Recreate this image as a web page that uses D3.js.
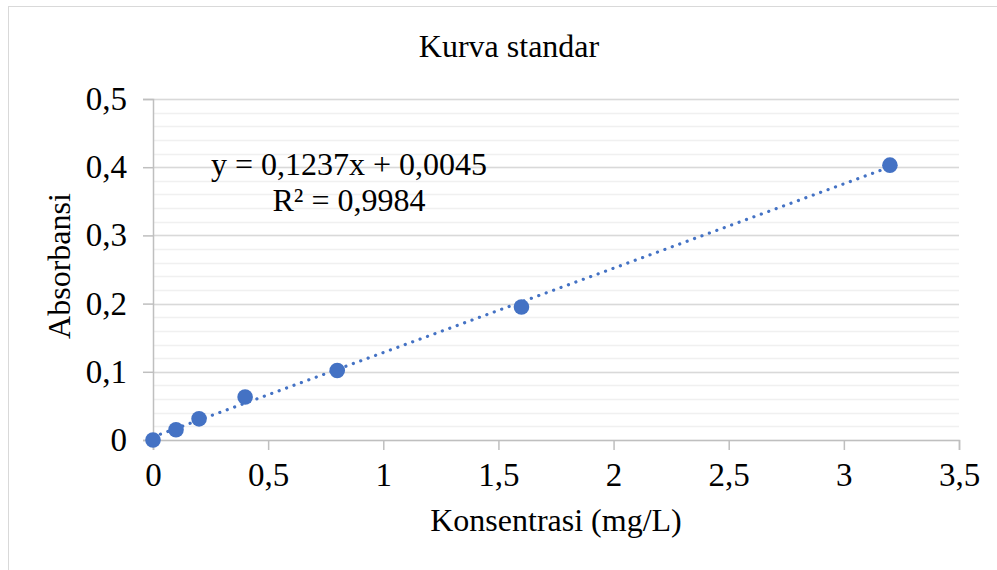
<!DOCTYPE html>
<html>
<head>
<meta charset="utf-8">
<script src="https://cdn.jsdelivr.net/npm/d3@7"></script>
<style>
  body { margin: 0; background: #fff; }
  svg text { font-family: "Liberation Serif", "Times New Roman", serif; fill: #000; }
</style>
</head>
<body>
<svg id="chart" width="997" height="570"></svg>
<script>
// data
var konsentrasi = [0, 0.1, 0.2, 0.4, 0.8, 1.6, 3.2]
var absorbansi = [0, 0.015, 0.031, 0.063, 0.102, 0.195, 0.403]
var xTicks = [0, 0.5, 1, 1.5, 2, 2.5, 3, 3.5]
var yTicks = [0, 0.1, 0.2, 0.3, 0.4, 0.5]
var yMinor = d3.range(0, 0.5001, 0.02)
var slope = 0.1237
var intercept = 0.0045
var eqText = "y = 0,1237x + 0,0045"
var r2Text = "R\u00b2 = 0,9984"

var blue = "#4472C4"
var svg = d3.select("#chart")

// outer chart border
svg.append("rect")
  .attr("x", 8.5).attr("y", 6.5)
  .attr("width", 1000).attr("height", 600)
  .attr("fill", "none").attr("stroke", "#d9d9d9")

var x = d3.scaleLinear().domain([0, 3.5]).range([153, 959])
var y = d3.scaleLinear().domain([0, 0.5]).range([440, 99])

var fmt = function(d) { return d3.format("~g")(d).replace(".", ",") }

// minor gridlines
svg.append("g").selectAll("line").data(yMinor).enter().append("line")
  .attr("x1", x(0)).attr("x2", x(3.5))
  .attr("y1", function(d) { return Math.round(y(d)) + 0.5 })
  .attr("y2", function(d) { return Math.round(y(d)) + 0.5 })
  .attr("stroke", "#f0f0f0").attr("stroke-width", 1.5)

// major gridlines
svg.append("g").selectAll("line").data(yTicks.slice(1)).enter().append("line")
  .attr("x1", x(0)).attr("x2", x(3.5))
  .attr("y1", function(d) { return Math.round(y(d)) + 0.5 })
  .attr("y2", function(d) { return Math.round(y(d)) + 0.5 })
  .attr("stroke", "#d9d9d9").attr("stroke-width", 1.5)

// axes
var xAxis = svg.append("g")
  .attr("transform", "translate(0," + y(0) + ")")
  .call(d3.axisBottom(x).tickValues(xTicks).tickFormat(fmt).tickSize(10).tickPadding(13))
var yAxis = svg.append("g")
  .attr("transform", "translate(" + x(0) + ",0)")
  .call(d3.axisLeft(y).tickValues(yTicks).tickFormat(fmt).tickSize(10).tickPadding(16))

svg.selectAll(".domain").attr("stroke", "#bfbfbf").attr("stroke-width", 1.5)
svg.selectAll(".tick line").attr("stroke", "#bfbfbf").attr("stroke-width", 1.5)
svg.selectAll(".tick text").style("font-size", "33px").style("font-family", "Liberation Serif")
xAxis.selectAll(".tick text").attr("dy", "0.71em")

// trendline
var lineGen = d3.line()
  .x(function(d) { return x(d) })
  .y(function(d) { return y(slope * d + intercept) })
svg.append("path")
  .datum([0, d3.max(konsentrasi)])
  .attr("d", lineGen)
  .attr("fill", "none")
  .attr("stroke", blue)
  .attr("stroke-width", 3.2)
  .attr("stroke-linecap", "round")
  .attr("stroke-dasharray", "0.1 7.8")

// points
svg.append("g").selectAll("circle").data(konsentrasi).enter().append("circle")
  .attr("cx", function(d) { return x(d) })
  .attr("cy", function(d, i) { return y(absorbansi[i]) })
  .attr("r", 7.8)
  .attr("fill", blue)

// titles
svg.append("text")
  .attr("x", 509).attr("y", 57)
  .attr("text-anchor", "middle")
  .style("font-size", "32px")
  .text("Kurva standar")

svg.append("text")
  .attr("x", 556).attr("y", 531)
  .attr("text-anchor", "middle")
  .style("font-size", "32px")
  .text("Konsentrasi (mg/L)")

svg.append("text")
  .attr("transform", "translate(70,266) rotate(-90)")
  .attr("text-anchor", "middle")
  .style("font-size", "32px")
  .text("Absorbansi")

// equation label
svg.append("text")
  .attr("x", 349).attr("y", 175)
  .attr("text-anchor", "middle")
  .style("font-size", "32px")
  .text(eqText)
svg.append("text")
  .attr("x", 349).attr("y", 211)
  .attr("text-anchor", "middle")
  .style("font-size", "32px")
  .text(r2Text)
</script>
</body>
</html>
